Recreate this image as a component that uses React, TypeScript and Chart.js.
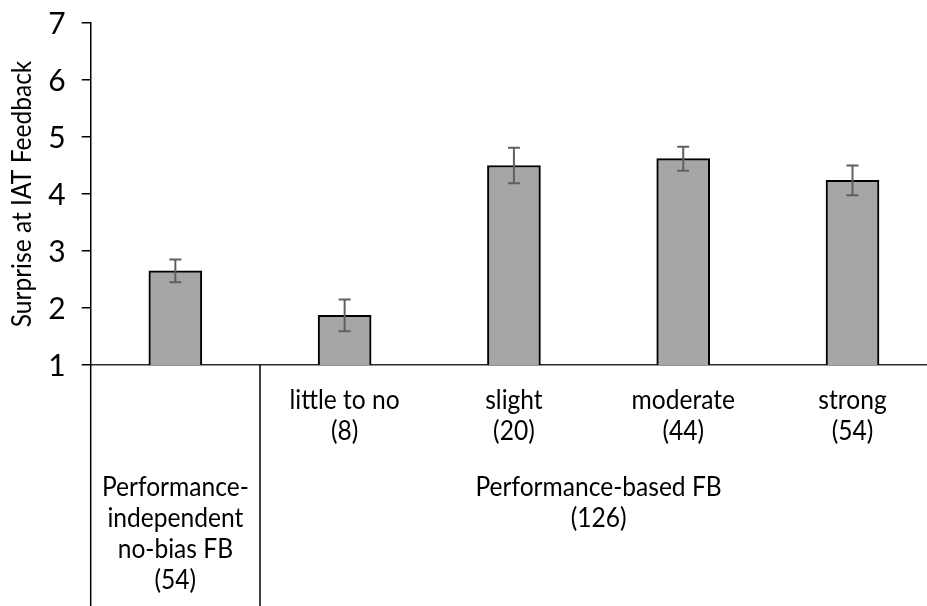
import React, { useEffect, useRef } from 'react';
import { Chart, registerables } from 'chart.js';

Chart.register(...registerables);

// Bar positions on the linear x axis (one unit per bar)
const barPositions = [0, 1, 2, 3, 4];
// Mean surprise rating per feedback condition
const meanSurprise = [2.65, 1.87, 4.5, 4.62, 4.24];
// Error bar half-lengths
const errorMargins = [0.2, 0.28, 0.31, 0.21, 0.26];
// First-level category labels under each bar
const barLabelLines: string[][] = [
  [],
  ['little to no', '(8)'],
  ['slight', '(20)'],
  ['moderate', '(44)'],
  ['strong', '(54)'],
];
// Second-level group labels and the bars each group spans
const groupLabelLines: string[][] = [
  ['Performance-', 'independent', 'no-bias FB', '(54)'],
  ['Performance-based FB', '(126)'],
];
const groupFirstBar = [0, 1];
const groupLastBar = [0, 4];
// Y axis
const yTickValues = [1, 2, 3, 4, 5, 6, 7];
const yAxisTitle = 'Surprise at IAT Feedback';

const FONT_FAMILY = 'Lato, "Open Sans", sans-serif';
const TEXT_COLOR = '#000000';
// Lato runs a little wide, so text is narrowed slightly along its baseline
const TEXT_SQUEEZE = 0.945;

function squeezedText(ctx: CanvasRenderingContext2D, text: string, px: number, py: number) {
  ctx.save();
  ctx.translate(px, py);
  ctx.scale(TEXT_SQUEEZE, 1);
  ctx.fillText(text, 0, 0);
  ctx.restore();
}

const annotations = {
  id: 'annotations',
  afterDatasetsDraw(chart: any) {
    const { ctx, scales } = chart;
    const x = scales.x;
    const y = scales.y;
    ctx.save();
    ctx.strokeStyle = '#606060';
    ctx.lineWidth = 2;
    const cap = 6;
    meanSurprise.forEach((m, i) => {
      const px = x.getPixelForValue(barPositions[i]);
      const top = y.getPixelForValue(m + errorMargins[i]);
      const bot = y.getPixelForValue(m - errorMargins[i]);
      ctx.beginPath();
      ctx.moveTo(px, top);
      ctx.lineTo(px, bot);
      ctx.moveTo(px - cap, top);
      ctx.lineTo(px + cap, top);
      ctx.moveTo(px - cap, bot);
      ctx.lineTo(px + cap, bot);
      ctx.stroke();
    });
    ctx.restore();
  },
  afterDraw(chart: any) {
    const { ctx, scales, chartArea } = chart;
    const x = scales.x;
    const y = scales.y;
    const bottom = chartArea.bottom;
    ctx.save();
    ctx.fillStyle = TEXT_COLOR;

    // y tick labels
    ctx.font = `30px ${FONT_FAMILY}`;
    ctx.textAlign = 'right';
    ctx.textBaseline = 'middle';
    yTickValues.forEach((v) => {
      ctx.fillText(String(v), chartArea.left - 25, y.getPixelForValue(v) + 1);
    });

    // y axis title
    ctx.save();
    ctx.font = `26px ${FONT_FAMILY}`;
    ctx.textAlign = 'center';
    ctx.textBaseline = 'middle';
    ctx.translate(22.5, (chartArea.top + chartArea.bottom) / 2);
    ctx.rotate(-Math.PI / 2);
    squeezedText(ctx, yAxisTitle, 0, 0);
    ctx.restore();

    // category labels
    const lineGap = 31;
    ctx.font = `26px ${FONT_FAMILY}`;
    ctx.textAlign = 'center';
    ctx.textBaseline = 'alphabetic';
    barLabelLines.forEach((lines, i) => {
      const px = x.getPixelForValue(barPositions[i]);
      lines.forEach((t, k) => squeezedText(ctx, t, px, bottom + 43.5 + k * lineGap));
    });

    // group labels
    groupLabelLines.forEach((lines, g) => {
      const a = barPositions[groupFirstBar[g]];
      const b = barPositions[groupLastBar[g]];
      const px = x.getPixelForValue((a + b) / 2);
      lines.forEach((t, k) => squeezedText(ctx, t, px, bottom + 130.5 + k * lineGap));
    });

    // group separators below the axis
    ctx.strokeStyle = '#000000';
    ctx.lineWidth = 1.5;
    const edges = new Set<number>();
    groupFirstBar.forEach((f, g) => {
      edges.add(barPositions[f] - 0.5);
      edges.add(barPositions[groupLastBar[g]] + 0.5);
    });
    edges.forEach((v) => {
      const px = x.getPixelForValue(v);
      ctx.beginPath();
      ctx.moveTo(px, bottom);
      ctx.lineTo(px, chart.height);
      ctx.stroke();
    });
    ctx.restore();
  },
};

export default function App() {
  const canvasRef = useRef<HTMLCanvasElement>(null);

  useEffect(() => {
    const canvas = canvasRef.current;
    if (!canvas) return;
    const chart = new Chart(canvas, {
      type: 'bar',
      data: {
        datasets: [
          {
            data: meanSurprise.map((m, i) => ({ x: barPositions[i], y: m })),
            backgroundColor: '#A6A6A6',
            borderColor: '#000000',
            borderWidth: 2,
            borderSkipped: false,
            barThickness: 53,
          },
        ],
      },
      options: {
        animation: false,
        responsive: false,
        devicePixelRatio: 1,
        layout: { padding: { left: 81.7, top: 23, right: 0, bottom: 233 } },
        plugins: { legend: { display: false }, tooltip: { enabled: false } },
        scales: {
          x: {
            type: 'linear',
            min: -0.5,
            max: 4.44,
            offset: false,
            ticks: { display: false },
            grid: { display: false, offset: false },
            border: { display: true, color: '#2a2a2a', width: 1.5 },
          },
          y: {
            type: 'linear',
            min: 1,
            max: 7,
            ticks: { display: false, stepSize: 1 },
            grid: {
              display: true,
              drawOnChartArea: false,
              drawTicks: true,
              tickLength: 9,
              color: '#000000',
              lineWidth: 1.5,
            },
            border: { display: true, color: '#000000', width: 1.5 },
          },
        },
      },
      plugins: [annotations],
    });
    return () => chart.destroy();
  }, []);

  return (
    <div style={{ position: 'fixed', left: 0, top: 0, width: 927, height: 606, background: '#ffffff' }}>
      <canvas ref={canvasRef} width={927} height={606} style={{ display: 'block' }} />
    </div>
  );
}
